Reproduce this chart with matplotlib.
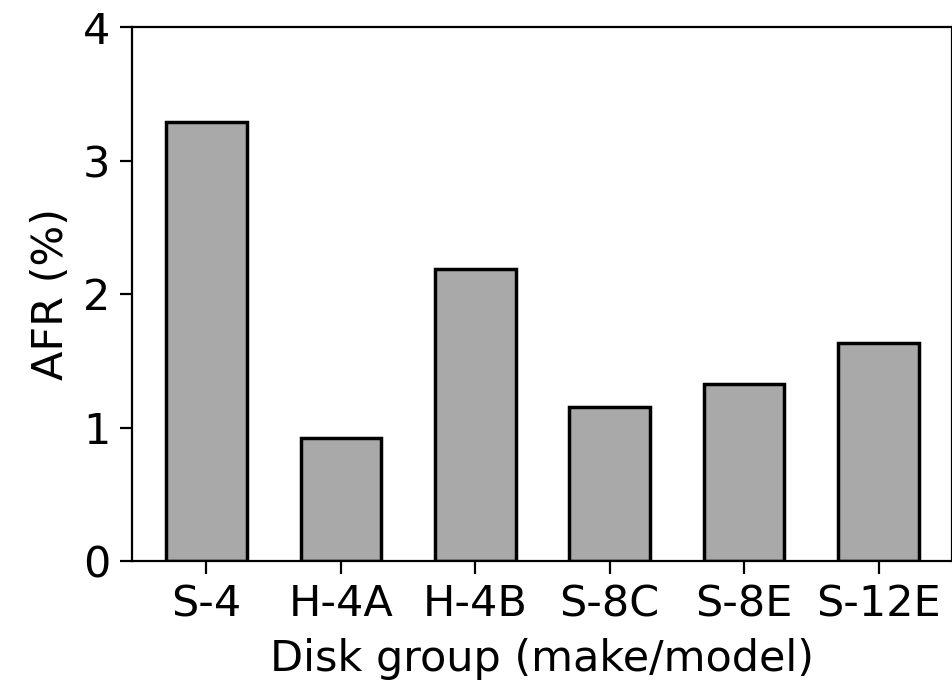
import matplotlib
matplotlib.use("Agg")
import matplotlib.pyplot as plt

groups = ["S-4", "H-4A", "H-4B", "S-8C", "S-8E", "S-12E"]
afr = [3.29, 0.92, 2.19, 1.155, 1.325, 1.63]
yticks = [0, 1, 2, 3, 4]

plt.rcParams['font.family'] = ['DejaVu Sans']
fig = plt.figure(figsize=(9.53, 6.82), dpi=100)
ax = fig.add_axes([132.5/953, (682-561)/682, 820/953, 534/682])
x = list(range(len(groups)))
ax.bar(x, afr, width=0.6, color="#a9a9a9", edgecolor="black", linewidth=2.5)
ax.set_xlim(-0.55, 5.55)
ax.set_ylim(0, 4)
ax.set_yticks(yticks)
ax.set_xticks(x)
ax.set_xticklabels(groups)
ax.tick_params(axis='both', labelsize=31, length=9, width=1.6, pad=7)
for s in ax.spines.values():
    s.set_linewidth(1.6)
ax.set_ylabel("AFR (%)", fontsize=31, labelpad=8)
ax.set_xlabel("Disk group (make/model)", fontsize=31, labelpad=9)
fig.savefig("out.png", dpi=100)
